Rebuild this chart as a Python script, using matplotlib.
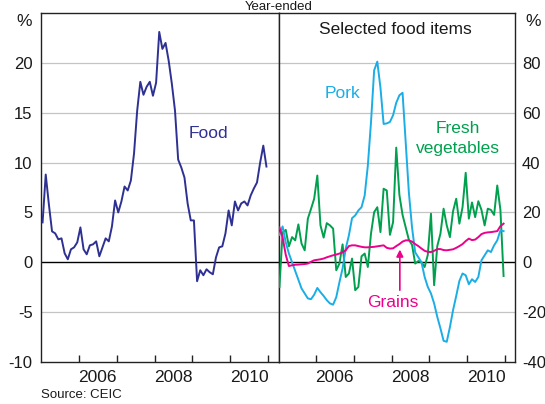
import matplotlib
matplotlib.use("Agg")
import matplotlib.pyplot as plt
import numpy as np

plt.rcParams['font.family'] = ['Liberation Sans', 'DejaVu Sans']
plt.rcParams['axes.unicode_minus'] = False

# Monthly data, Jan 2005 - Dec 2010 (year-ended % change)
food = [4.0, 8.8, 5.8, 3.1, 2.9, 2.3, 2.4, 0.9, 0.3, 1.3, 1.5, 2.0,
        3.5, 1.3, 0.8, 1.7, 1.8, 2.1, 0.6, 1.5, 2.4, 2.1, 3.6, 6.2,
        5.0, 6.1, 7.6, 7.2, 8.2, 10.9, 15.2, 18.1, 16.8, 17.6, 18.1, 16.7,
        18.0, 23.1, 21.4, 22.0, 20.2, 17.9, 15.2, 10.3, 9.5, 8.5, 5.9, 4.2,
        4.2, -1.9, -0.8, -1.3, -0.7, -1.0, -1.2, 0.5, 1.5, 1.6, 2.9, 5.2,
        3.7, 6.1, 5.2, 5.9, 6.1, 5.7, 6.7, 7.4, 8.0, 10.0, 11.7, 9.6]

pork = [11.0, 14.4, 8.0, 3.5, 0.0, -3.5, -7.0, -10.5, -12.5, -14.5, -14.8, -13.0,
        -10.3, -12.0, -13.5, -15.2, -16.5, -17.0, -14.0, -8.0, -2.5, 5.5, 10.8, 17.7,
        18.8, 20.8, 22.1, 26.8, 38.8, 56.1, 77.0, 80.5, 70.0, 55.5, 55.7, 56.3,
        59.0, 64.0, 67.0, 68.0, 48.0, 28.0, 14.0, 4.0, 2.0, 0.0, -5.9, -9.9,
        -12.5, -16.5, -21.9, -26.5, -31.5, -31.9, -26.0, -19.2, -13.5, -7.5, -4.5, -5.2,
        -8.8, -6.8, -7.9, -5.9, 0.8, 2.8, 4.8, 4.1, 6.8, 8.8, 12.8, 12.5]

vegetables = [-9.9, 12.0, 13.0, 6.4, 10.1, 8.8, 15.2, 7.5, 4.8, 17.5, 21.4, 25.5,
              34.8, 14.8, 9.9, 15.7, 14.8, 13.5, -3.2, -0.5, 7.2, -5.9, -4.5, 1.5,
              -11.2, -9.9, 2.4, 3.5, -1.9, 11.5, 20.1, 22.1, 12.1, 29.5, 28.8, 11.0,
              16.1, 46.0, 27.0, 19.0, 14.0, 9.0, 7.0, -0.5, 0.5, 0.0, -1.9, 3.0,
              19.5, -9.2, 6.5, 11.5, 21.5, 14.8, 10.1, 20.5, 25.5, 15.5, 22.1, 35.9,
              17.5, 24.0, 18.1, 24.5, 21.0, 14.8, 21.5, 21.0, 19.0, 30.8, 21.0, -5.5]

grains = [14.0, 10.0, 3.0, -1.5, -1.2, -1.0, -0.9, -0.8, -0.7, -0.5, 0.2, 0.8,
          1.0, 1.2, 1.5, 2.0, 2.4, 2.8, 3.1, 3.5, 4.0, 4.8, 6.5, 6.8,
          6.8, 6.5, 6.2, 6.0, 6.0, 6.1, 6.2, 6.4, 6.6, 6.8, 5.8, 5.5,
          5.6, 6.5, 7.3, 8.3, 8.8, 8.8, 8.3, 7.3, 6.5, 5.5, 4.6, 4.2,
          4.1, 4.6, 5.3, 5.3, 4.9, 4.8, 5.0, 5.2, 5.8, 6.5, 7.3, 8.5,
          9.5, 8.9, 9.1, 10.1, 11.3, 11.8, 12.0, 12.1, 12.3, 12.5, 14.5, 15.5]

months = 2005 + (np.arange(len(food)) + 0.5) / 12.0

left_ticks = [-10, -5, 0, 5, 10, 15, 20]
right_ticks = [-40, -20, 0, 20, 40, 60, 80]
year_ticks = [2006, 2007, 2008, 2009, 2010, 2011]
year_labels = ['2006', '2008', '2010']

C_FOOD = '#2E3192'
C_PORK = '#1BADE6'
C_VEG = '#00A04E'
C_GRAIN = '#EC008C'
C_GRID = '#C4C4C4'
C_SPINE = '#222222'

W, H = 545, 404
fig = plt.figure(figsize=(W / 100, H / 100), dpi=100)

def px_axes(x0, x1, y0, y1):
    return fig.add_axes([x0 / W, 1 - y1 / H, (x1 - x0) / W, (y1 - y0) / H])

axL = px_axes(41, 279, 13, 362)
axR = px_axes(279, 515, 13, 362)

def style(ax, ylim, yticks, side):
    ax.set_ylim(*ylim)
    for t in yticks[1:]:
        if t == 0:
            ax.axhline(0, color='black', lw=1.0, zorder=2)
        else:
            ax.axhline(t, color=C_GRID, lw=0.9, zorder=1)
    ax.set_yticks(yticks)
    ax.set_yticklabels([str(t) for t in yticks])
    ax.set_xticks(year_ticks)
    ax.set_xticklabels([])
    ax.set_xticks([2006.5, 2008.5, 2010.5], minor=True)
    ax.set_xticklabels(year_labels, minor=True)
    ax.tick_params(axis='x', which='major', direction='in', length=5, width=1.0,
                   color=C_SPINE, top=False)
    ax.tick_params(axis='x', which='minor', length=0, labelsize=12.5, pad=5.5,
                   labelcolor='#1a1a1a')
    if side == 'left':
        ax.tick_params(axis='y', length=0, labelsize=12, pad=6, labelleft=True,
                       labelright=False, labelcolor='#1a1a1a')
    else:
        ax.tick_params(axis='y', length=0, labelsize=12, pad=5, labelleft=False,
                       labelright=True, left=False, right=False, labelcolor='#1a1a1a')
    for s in ax.spines.values():
        s.set_color(C_SPINE)
        s.set_linewidth(1.0)

style(axL, (-10, 25), left_ticks, 'left')
style(axR, (-40, 100), right_ticks, 'right')

axL.set_xlim(2005.0, 2011.29)
axR.set_xlim(2005.03, 2011.26)

lw = 1.4
axL.plot(months, food, color=C_FOOD, lw=lw, zorder=3)
axR.plot(months, vegetables, color=C_VEG, lw=lw, zorder=3)
axR.plot(months, pork, color=C_PORK, lw=lw, zorder=4)
axR.plot(months, grains, color=C_GRAIN, lw=lw, zorder=5)

# Series labels
axL.text(2008.89, 12.43, 'Food', color=C_FOOD, fontsize=12.5, ha='left', va='baseline')
axR.text(2006.245, 66.1, 'Pork', color=C_PORK, fontsize=12.5, ha='left', va='baseline')
axR.text(2009.755, 51.7, 'Fresh', color=C_VEG, fontsize=12.5, ha='center', va='baseline')
axR.text(2009.755, 44.0, 'vegetables', color=C_VEG, fontsize=12.5, ha='center', va='baseline')
axR.text(2008.04, -17.9, 'Grains', color=C_GRAIN, fontsize=12.5, ha='center', va='baseline')
axR.annotate('', xy=(2008.22, 5.1), xytext=(2008.22, -11.2),
             arrowprops=dict(arrowstyle='-|>', color=C_GRAIN, lw=1.2,
                             mutation_scale=10, shrinkA=0, shrinkB=0))
axR.text(2008.09, 91.5, 'Selected food items', color='#1a1a1a', fontsize=12.5,
         ha='center', va='baseline')

# Units
fig.text(24 / W, 1 - 21 / H, '%', fontsize=12.5, ha='center', va='center', color='#1a1a1a')
fig.text(533.5 / W, 1 - 21 / H, '%', fontsize=12.5, ha='center', va='center', color='#1a1a1a')

# Title and source, kept within the canvas
fig.text(279 / W, 1 - 10.5 / H, 'Year-ended', fontsize=9.5, ha='center', va='baseline',
         color='#1a1a1a')
fig.text(41 / W, 1 - 398.5 / H, 'Source: CEIC', fontsize=9.5, ha='left', va='baseline',
         color='#1a1a1a')

fig.savefig('out.png', dpi=100)
